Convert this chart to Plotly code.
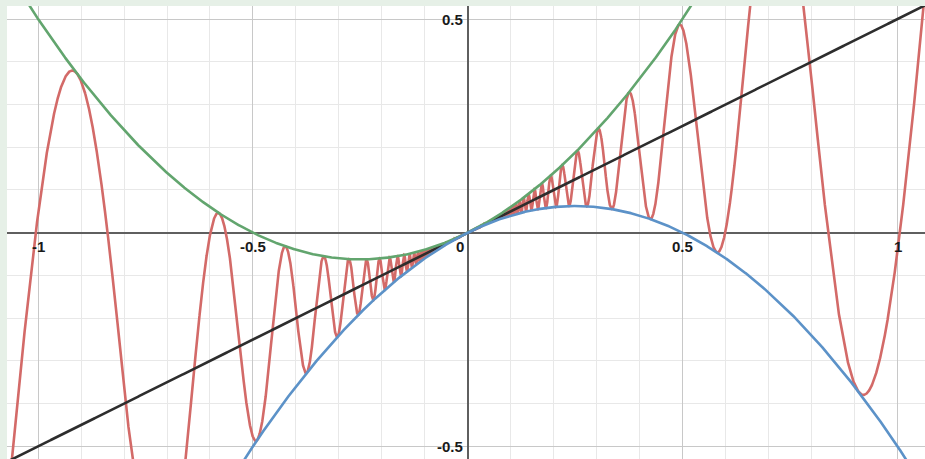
import numpy as np
import plotly.graph_objects as go

# Functions: y = a*x + b*x^2 (envelopes), y = a*x (line),
# y = a*x + x^2*sin(c/x) (oscillating curve)
line_slope = [0.5]
upper_coef = [0.5, 1.0]      # y = 0.5x + x^2   (green)
lower_coef = [0.5, -1.0]     # y = 0.5x - x^2   (blue)
osc_params = [0.5, 10.0]     # y = 0.5x + x^2 sin(10/x)  (red)

x_range = [-1.0724, 1.0640]
y_range = [-0.5296, 0.5305]

x_tick_vals = [-1, -0.5, 0, 0.5, 1]
x_tick_text = ["-1", "-0.5", "0", "0.5", "1"]
y_tick_vals = [0.5, -0.5]
y_tick_text = ["0.5", "-0.5"]

# sampling
xs = np.linspace(x_range[0], x_range[1], 4001)
u = np.linspace(-1, 1, 60001)
xo = np.sign(u) * np.abs(u) ** 2 * 1.08
xo = xo[xo != 0]
xo = np.sort(np.concatenate([xo, [0.0]]))

def osc(x):
    a, c = osc_params
    out = a * x
    nz = x != 0
    out[nz] = a * x[nz] + x[nz] ** 2 * np.sin(c / x[nz])
    return out

red = "rgb(211,106,104)"
green = "rgb(98,165,110)"
blue = "rgb(92,146,200)"
black = "rgb(45,45,45)"

fig = go.Figure()
fig.add_trace(go.Scatter(x=xo, y=osc(xo.copy()), mode="lines",
                         line=dict(color=red, width=2.6), hoverinfo="skip"))
fig.add_trace(go.Scatter(x=xs, y=line_slope[0] * xs, mode="lines",
                         line=dict(color=black, width=2.6), hoverinfo="skip"))
fig.add_trace(go.Scatter(x=xs, y=upper_coef[0] * xs + upper_coef[1] * xs ** 2, mode="lines",
                         line=dict(color=green, width=2.6), hoverinfo="skip"))
fig.add_trace(go.Scatter(x=xs, y=lower_coef[0] * xs + lower_coef[1] * xs ** 2, mode="lines",
                         line=dict(color=blue, width=2.6), hoverinfo="skip"))

label_font = dict(family="Liberation Sans", size=15, color="#1a1a1a")
ann = []
for v, t in zip(x_tick_vals, x_tick_text):
    if v == 0:
        ann.append(dict(x=0, y=0, xref="x", yref="y", text="<b>" + t + "</b>",
                        showarrow=False, xanchor="right", yanchor="top",
                        xshift=-2, yshift=-3, font=label_font))
    else:
        ann.append(dict(x=v, y=0, xref="x", yref="y", text="<b>" + t + "</b>",
                        showarrow=False, xanchor="center", yanchor="top",
                        yshift=-3, font=label_font))
for v, t in zip(y_tick_vals, y_tick_text):
    ann.append(dict(x=0, y=v, xref="x", yref="y", text="<b>" + t + "</b>",
                    showarrow=False, xanchor="right", yanchor="middle",
                    xshift=-3, font=label_font))

axis_common = dict(
    showticklabels=False, ticks="",
    dtick=0.5, tick0=0, showgrid=True, gridcolor="rgb(200,200,200)", gridwidth=1.2,
    minor=dict(dtick=0.1, tick0=0, showgrid=True, gridcolor="rgb(232,232,232)", gridwidth=1),
    zeroline=True, zerolinecolor="rgb(95,95,95)", zerolinewidth=2,
    showline=False, fixedrange=True,
)

fig.update_layout(
    width=925, height=459,
    margin=dict(l=7, r=0, t=6, b=0),
    paper_bgcolor="rgb(230,240,231)",
    plot_bgcolor="white",
    showlegend=False,
    xaxis=dict(range=x_range, **axis_common),
    yaxis=dict(range=y_range, **axis_common),
    annotations=ann,
)

fig.write_html("out.html",
               post_script="document.body.style.margin='0';document.body.style.overflow='hidden';",
               config={"displayModeBar": False})
